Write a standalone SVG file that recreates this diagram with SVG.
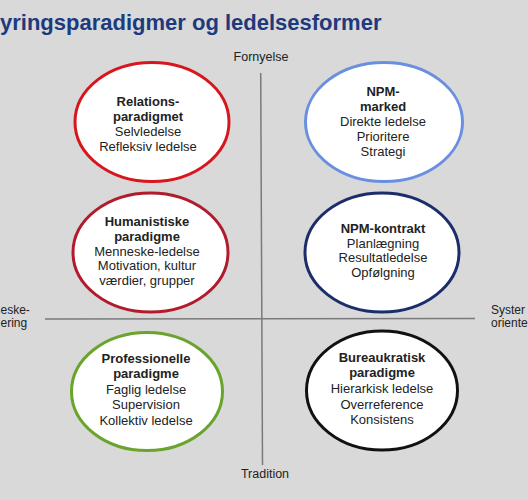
<svg xmlns="http://www.w3.org/2000/svg" width="528" height="500" viewBox="0 0 528 500">
  <style>
    .bg { fill: #d9d9d9; }
    .title { font-family: "Liberation Sans", Arial, sans-serif; font-weight: bold; font-size: 22px; fill: #1d3a7c; }
    .lbl { font-family: "Liberation Sans", Arial, sans-serif; font-size: 12.5px; fill: #222; }
    .side { font-family: "Liberation Sans", Arial, sans-serif; font-size: 12px; fill: #222; }
    .t { font-family: "Liberation Sans", Arial, sans-serif; font-size: 13px; fill: #222; text-anchor: middle; }
    .b { font-weight: bold; }
    .ell { fill: #ffffff; stroke-width: 3; }
    .axis { stroke: #7a7a7a; stroke-width: 1.5; fill: none; }
  </style>
  <rect class="bg" x="0" y="0" width="528" height="500"/>
  <text class="title" x="0" y="30">yringsparadigmer og ledelsesformer</text>

  <g id="connectors">
    <line class="axis" x1="260.7" y1="73" x2="262.5" y2="465"/>
    <line class="axis" x1="45" y1="319" x2="475" y2="318.5"/>
  </g>

  <g id="axis-labels">
    <text class="lbl" x="261" y="61" text-anchor="middle">Fornyelse</text>
    <text class="lbl" x="265" y="478" text-anchor="middle">Tradition</text>
    <text class="side" x="0.5" y="314">eske-</text>
    <text class="side" x="0.5" y="327">ering</text>
    <text class="side" x="491" y="314">Syster</text>
    <text class="side" x="491" y="327">oriente</text>
  </g>

  <g id="relations">
    <ellipse class="ell" cx="152" cy="122" rx="77" ry="59.5" stroke="#d7161e"/>
    <text class="t b" x="148" y="106">Relations-</text>
    <text class="t b" x="148" y="121">paradigmet</text>
    <text class="t" x="148" y="136">Selvledelse</text>
    <text class="t" x="148" y="151">Refleksiv ledelse</text>
  </g>

  <g id="npm-marked">
    <ellipse class="ell" cx="384" cy="122" rx="78.5" ry="59.5" stroke="#6b8fe0"/>
    <text class="t b" x="383" y="96">NPM-</text>
    <text class="t b" x="383" y="111">marked</text>
    <text class="t" x="383" y="126">Direkte ledelse</text>
    <text class="t" x="383" y="141">Prioritere</text>
    <text class="t" x="383" y="156">Strategi</text>
  </g>

  <g id="humanistiske">
    <ellipse class="ell" cx="150.5" cy="252.5" rx="77.5" ry="59.5" stroke="#b01c2c"/>
    <text class="t b" x="147" y="226">Humanistiske</text>
    <text class="t b" x="147" y="241">paradigme</text>
    <text class="t" x="147" y="255.5">Menneske-ledelse</text>
    <text class="t" x="147" y="270">Motivation, kultur</text>
    <text class="t" x="147" y="284.5">værdier, grupper</text>
  </g>

  <g id="npm-kontrakt">
    <ellipse class="ell" cx="382" cy="252.5" rx="77" ry="59.5" stroke="#1c2d6c"/>
    <text class="t b" x="383" y="233">NPM-kontrakt</text>
    <text class="t" x="383" y="247.5">Planlægning</text>
    <text class="t" x="383" y="262">Resultatledelse</text>
    <text class="t" x="383" y="276.5">Opfølgning</text>
  </g>

  <g id="professionelle">
    <ellipse class="ell" cx="147" cy="391.5" rx="75.5" ry="59" stroke="#6aa42c"/>
    <text class="t b" x="146" y="363">Professionelle</text>
    <text class="t b" x="146" y="378">paradigme</text>
    <text class="t" x="146" y="393.5">Faglig ledelse</text>
    <text class="t" x="146" y="409">Supervision</text>
    <text class="t" x="146" y="424.5">Kollektiv ledelse</text>
  </g>

  <g id="bureaukratisk">
    <ellipse class="ell" cx="382" cy="390.5" rx="75.5" ry="59.5" stroke="#111111"/>
    <text class="t b" x="382" y="362">Bureaukratisk</text>
    <text class="t b" x="382" y="377">paradigme</text>
    <text class="t" x="382" y="393">Hierarkisk ledelse</text>
    <text class="t" x="382" y="409">Overreference</text>
    <text class="t" x="382" y="424">Konsistens</text>
  </g>
</svg>
